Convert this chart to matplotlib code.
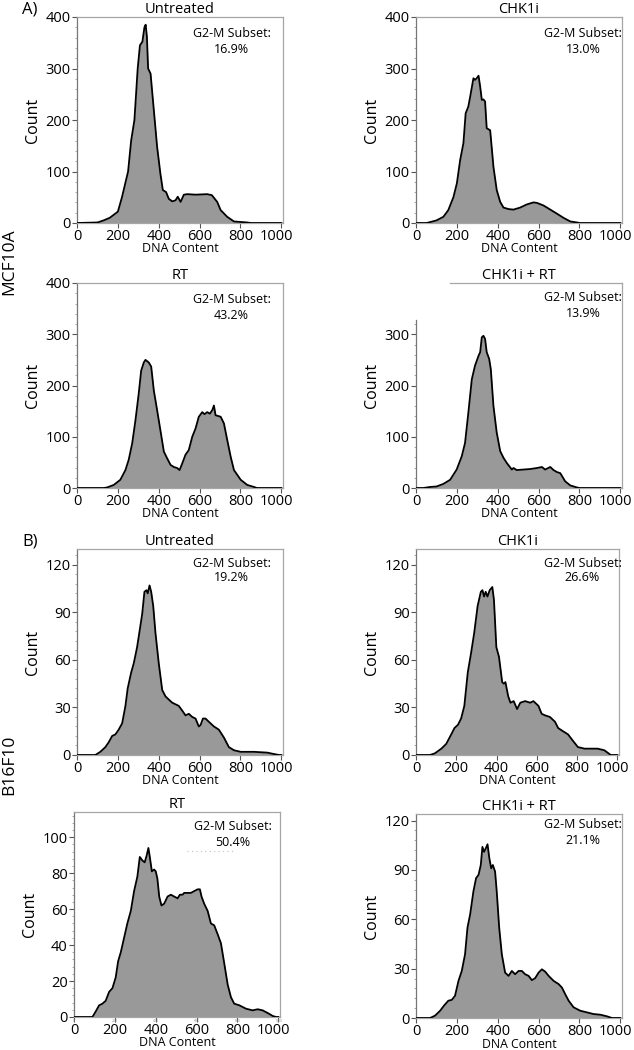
import matplotlib
matplotlib.use("Agg")
import matplotlib.pyplot as plt
import matplotlib.transforms as mtransforms
from matplotlib.ticker import AutoMinorLocator, FixedLocator

plt.rcParams['font.family'] = ['Open Sans', 'DejaVu Sans']

titles = ["Untreated", "CHK1i", "RT", "CHK1i + RT",
          "Untreated", "CHK1i", "RT", "CHK1i + RT"]
g2m_values = ["16.9%", "13.0%", "43.2%", "13.9%",
              "19.2%", "26.6%", "50.4%", "21.1%"]
row_labels = ["MCF10A", "B16F10"]
section_labels = ["A)", "B)"]

# MCF10A Untreated
x1 = [0, 100, 130, 160, 200, 220, 250, 265, 281, 297, 308, 320, 330, 336, 342, 348, 360,
      376, 392, 408, 420, 436, 449, 466, 482, 493, 507, 523, 540, 580, 637, 660, 686, 703,
      735, 768, 833, 850, 1000]
y1 = [0, 1, 5, 10, 22, 50, 100, 160, 200, 300, 345, 352, 380, 385, 362, 300, 290,
      219, 148, 96, 64, 60, 47, 42, 44, 51, 41, 55, 56, 55, 56, 54, 41, 25,
      12, 3, 1, 0, 0]
# MCF10A CHK1i
x2 = [0, 52, 100, 134, 158, 183, 200, 216, 232, 243, 256, 265, 281, 289, 297, 306, 314,
      322, 330, 338, 346, 363, 379, 395, 412, 428, 453, 477, 510, 542, 575, 592, 624, 657,
      690, 722, 755, 788, 800, 1000]
y2 = [0, 0, 5, 12, 25, 50, 77, 122, 155, 213, 226, 245, 281, 278, 281, 286, 265,
      239, 240, 236, 184, 180, 109, 64, 41, 30, 27, 26, 30, 36, 40, 39, 34, 26,
      18, 10, 3, 1, 0, 0]
# MCF10A RT
x3 = [0, 131, 147, 180, 212, 237, 253, 270, 286, 302, 314, 327, 335, 351, 363, 376, 392,
      408, 425, 441, 458, 474, 490, 502, 515, 531, 547, 564, 580, 596, 613, 624, 637, 650,
      662, 670, 678, 703, 719, 735, 752, 768, 801, 833, 866, 880, 1000]
y3 = [0, 0, 1, 6, 16, 35, 55, 87, 132, 184, 229, 245, 250, 245, 237, 190, 152,
      113, 71, 58, 45, 41, 39, 35, 48, 65, 74, 100, 116, 139, 148, 144, 148, 145,
      152, 161, 142, 139, 126, 94, 61, 35, 16, 6, 2, 0, 0]
# MCF10A CHK1i + RT
x4 = [0, 36, 69, 101, 134, 167, 199, 224, 240, 257, 273, 289, 306, 314, 322, 330, 338,
      346, 358, 366, 379, 395, 412, 428, 444, 469, 477, 493, 526, 559, 592, 616, 632, 657,
      673, 690, 706, 730, 755, 788, 800, 1000]
y4 = [0, 0, 2, 3, 8, 16, 36, 62, 88, 150, 212, 239, 258, 265, 294, 297, 291,
      265, 252, 232, 160, 108, 72, 59, 49, 36, 39, 35, 36, 37, 39, 41, 36, 41,
      35, 31, 29, 13, 5, 1, 0, 0]
# B16F10 Untreated
x5 = [0, 90, 114, 139, 155, 172, 188, 204, 221, 237, 248, 265, 278, 294, 306, 319, 330,
      340, 346, 355, 363, 373, 384, 400, 417, 433, 449, 466, 482, 498, 515, 531, 547, 564,
      580, 596, 605, 616, 629, 645, 670, 694, 719, 743, 768, 801, 866, 931, 964, 989, 1000]
y5 = [0, 0, 2, 5, 8, 12, 13, 16, 20, 31, 42, 52, 58, 68, 78, 89, 103,
      104, 102, 107, 103, 94, 77, 58, 41, 37, 35, 33, 32, 31, 28, 25, 26, 24,
      23, 18, 19, 23, 23, 21, 18, 16, 11, 5, 3, 2, 2, 1.5, 0.6, 0, 0]
# B16F10 CHK1i
x6 = [0, 69, 93, 126, 150, 175, 191, 208, 224, 240, 257, 273, 289, 306, 322, 330, 338,
      346, 355, 366, 379, 387, 399, 412, 428, 436, 444, 458, 469, 485, 502, 518, 542, 567,
      583, 608, 624, 641, 665, 690, 706, 730, 755, 779, 804, 837, 902, 935, 967, 1000]
y6 = [0, 0, 1, 4, 7, 13, 17, 19, 23, 31, 52, 64, 77, 94, 103, 104, 100,
      103, 100, 104, 106, 98, 68, 62, 46, 45, 46, 37, 33, 34, 29, 33, 34, 33,
      34, 31, 26, 25, 24, 21, 17, 15, 13, 9, 5, 4, 4, 3, 0, 0]
# B16F10 RT
x7 = [0, 90, 106, 123, 139, 155, 172, 188, 204, 216, 229, 245, 261, 278, 294, 310, 322,
      335, 346, 356, 364, 371, 381, 392, 400, 408, 417, 428, 441, 458, 474, 490, 507, 518,
      531, 539, 556, 572, 588, 605, 616, 624, 637, 654, 670, 686, 703, 719, 735, 752, 768,
      784, 809, 842, 874, 899, 923, 948, 972, 989, 1000]
y7 = [0, 0, 3, 6.5, 7.4, 9, 14, 16, 22, 31, 36, 44, 52, 59, 70, 78, 89,
      87, 86, 90, 94, 89, 81, 82, 81, 77, 67, 62, 63, 67, 68, 67, 66, 68,
      68, 69, 69, 69, 70, 71, 71, 67, 63, 59, 52, 51, 46, 41, 30, 18, 11,
      7.4, 6.5, 4.6, 3.7, 4.3, 3.7, 2.2, 0.6, 0, 0]
# B16F10 CHK1i + RT
x8 = [0, 69, 93, 118, 137, 158, 175, 191, 208, 224, 240, 252, 265, 281, 294, 306, 317,
      325, 333, 341, 350, 359, 368, 376, 387, 395, 407, 420, 436, 453, 469, 485, 502, 518,
      534, 551, 567, 583, 600, 616, 632, 649, 673, 698, 714, 730, 747, 771, 804, 837, 869,
      902, 935, 959, 1000]
y8 = [0, 0, 1.4, 4.4, 7.5, 10.5, 11, 13.5, 22.6, 28.6, 38.7, 55, 63, 77, 85, 87, 93,
      104, 101, 103, 105.6, 97, 91, 93, 89, 77, 55, 38.7, 27.6, 25.6, 28.6, 26.6, 28.6, 28.6,
      26.6, 25.6, 23, 24.2, 27.6, 29.6, 28.2, 25.6, 22.6, 20.6, 18.5, 14.5, 10.5, 6.5, 4.4, 3.4, 2.4,
      2, 1, 0, 0]

xs = [x1, x2, x3, x4, x5, x6, x7, x8]
ys = [y1, y2, y3, y4, y5, y6, y7, y8]

ylims = [400, 400, 400, 400, 130, 130, 114, 124]
ysteps = [100, 100, 100, 100, 30, 30, 20, 30]
ytop_tick = [400, 400, 400, 300, 120, 120, 100, 120]

# pixel boxes (left, right, top, bottom)
boxes = [(77, 283, 17, 223), (416, 622, 17, 223),
         (77, 283, 283, 488), (416, 622, 283, 488),
         (77, 283, 549, 755), (416, 619, 549, 755),
         (74, 280, 812, 1017), (416, 622, 814, 1018)]
text_pos = [(0.75, 0.92, 0.84), (0.81, 0.92, 0.84),
            (0.75, 0.92, 0.84), (0.81, 0.93, 0.85),
            (0.75, 0.93, 0.86), (0.82, 0.93, 0.86),
            (0.77, 0.93, 0.85), (0.81, 0.95, 0.87)]

W, H = 634, 1050
fig = plt.figure(figsize=(W / 100, H / 100), dpi=100)
fig.patch.set_facecolor('white')

spine_gray = '#a6a6a6'
shift_left = mtransforms.ScaledTranslation(-5 / 100, 0, fig.dpi_scale_trans)
for i in range(8):
    l, r, t, b = boxes[i]
    ax = fig.add_axes([l / W, 1 - b / H, (r - l) / W, (b - t) / H])
    ax.fill_between(xs[i], ys[i], 0, color='#999999', lw=0, zorder=2)
    ax.plot(xs[i], ys[i], color='black', lw=1.3, zorder=3, solid_joinstyle='round')
    ax.set_xlim(0, 1008)
    ax.set_ylim(0, ylims[i])
    ax.set_xticks([0, 200, 400, 600, 800, 1000])
    yt = list(range(0, ytop_tick[i] + 1, ysteps[i]))
    ax.set_yticks(yt)
    if i == 3:
        ax.yaxis.set_minor_locator(FixedLocator([v for v in range(0, 321, 20) if v % 100]))
    else:
        ax.yaxis.set_minor_locator(AutoMinorLocator(5))
    ax.tick_params(axis='both', which='major', labelsize=10.5, length=3.5, width=0.8,
                   color='#555555', pad=1)
    ax.tick_params(axis='y', which='minor', length=1.5, width=0.6, color='#999999')
    ax.tick_params(axis='x', which='minor', length=0)
    lab = ax.get_xticklabels()[-1]
    lab.set_transform(lab.get_transform() + shift_left)
    for s in ['top', 'right', 'left', 'bottom']:
        ax.spines[s].set_color(spine_gray)
        ax.spines[s].set_linewidth(0.9)
    ax.spines['left'].set_color('#777777')
    ax.set_title(titles[i], fontsize=10.5, pad=2)
    if i == 7:
        ax.set_xlabel("DNA Content", fontsize=8.8, labelpad=-1)
    else:
        ax.set_xlabel("DNA Content", fontsize=9, labelpad=-1.5)
    ax.set_ylabel("Count", fontsize=11.5, labelpad=3)
    tx, ty1, ty2 = text_pos[i]
    ax.text(tx, ty1, "G2-M Subset:", transform=ax.transAxes, ha='center', va='center',
            fontsize=9)
    ax.text(tx, ty2, g2m_values[i], transform=ax.transAxes, ha='center', va='center',
            fontsize=9)
    if i == 3:
        ax.spines['left'].set_bounds(0, 328)
        ax.spines['top'].set_bounds(165, 1008)
    if i == 6:
        ax.plot([0.55, 0.78], [0.81, 0.81], transform=ax.transAxes, ls=(0, (1, 3)),
                color='#c0c0c0', lw=0.8)
        for t in [0, 200, 400, 600, 800, 1000]:
            ax.text(t, -1, str(t), fontsize=2.5, color='#999999', ha='center', va='top',
                    clip_on=False)

fig.text(22 / W, 1 - 10 / H, section_labels[0], fontsize=12, ha='left', va='center')
fig.text(22 / W, 1 - 542 / H, section_labels[1], fontsize=12, ha='left', va='center')
fig.text(9 / W, 1 - 262 / H, row_labels[0], fontsize=12.5, rotation=90, ha='center', va='center')
fig.text(9 / W, 1 - 765 / H, row_labels[1], fontsize=12.5, rotation=90, ha='center', va='center')

fig.savefig("out.png", dpi=100, facecolor='white')
